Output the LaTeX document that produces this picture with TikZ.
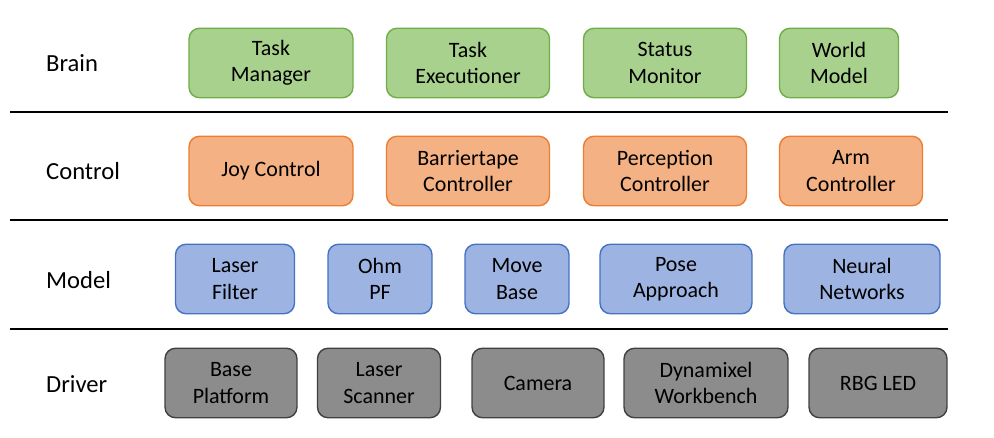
\documentclass[tikz,border=0pt]{standalone}
\usepackage{fontspec}
\setmainfont{Carlito}
\definecolor{brainfill}{HTML}{A9D18E}\definecolor{braindraw}{HTML}{70AD47}
\definecolor{ctrlfill}{HTML}{F4B183}\definecolor{ctrldraw}{HTML}{ED7D31}
\definecolor{modelfill}{HTML}{9DB3E2}\definecolor{modeldraw}{HTML}{4472C4}
\definecolor{drvfill}{HTML}{8C8C8C}\definecolor{drvdraw}{HTML}{404040}
\tikzset{
  box/.style={rounded corners=6pt, align=center, inner sep=0pt, minimum height=1.39cm,
    font=\fontsize{12.5}{15}\selectfont, thick},
  brain/.style={box, fill=brainfill, draw=braindraw},
  ctrl/.style={box, fill=ctrlfill, draw=ctrldraw},
  model/.style={box, fill=modelfill, draw=modeldraw},
  drv/.style={box, fill=drvfill, draw=drvdraw},
  layer/.style={anchor=west, font=\fontsize{14}{16}\selectfont},
  sep/.style={thick}
}
\begin{document}
\begin{tikzpicture}[x=0.02cm, y=-0.02cm]
\useasboundingbox (0,0) rectangle (994,438);
% layer names
\node[layer] (lbrain) at (40,63) {Brain};
\node[layer] (lctrl) at (40,171) {Control};
\node[layer] (lmodel) at (40,280) {Model};
\node[layer] (ldrv) at (40,384) {Driver};
% separators
\foreach \y in {112,220,329}
{   \draw[sep] (10,\y) -- (948,\y);
}
% brain
\node[brain, minimum width=3.28cm] (taskman) at (271,63) {Task\\Manager};
\node[brain, minimum width=3.26cm] (taskexec) at (468,63) {Task\\Executioner};
\node[brain, minimum width=3.26cm] (status) at (665,63) {Status\\Monitor};
\node[brain, minimum width=2.38cm] (world) at (839,63) {World\\Model};
% control
\node[ctrl, minimum width=3.28cm] (joy) at (271,171) {Joy Control};
\node[ctrl, minimum width=3.26cm] (barrier) at (468,171) {Barriertape\\Controller};
\node[ctrl, minimum width=3.26cm] (percep) at (665,171) {Perception\\Controller};
\node[ctrl, minimum width=2.86cm] (arm) at (851,171) {Arm\\Controller};
% model
\node[model, minimum width=2.38cm] (laserf) at (235,279) {Laser\\Filter};
\node[model, minimum width=2.08cm] (ohm) at (380,279) {Ohm\\PF};
\node[model, minimum width=2.08cm] (move) at (517,279) {Move\\Base};
\node[model, minimum width=3.04cm] (pose) at (676,279) {Pose\\Approach};
\node[model, minimum width=3.12cm] (neural) at (862,279) {Neural\\Networks};
% driver
\node[drv, minimum width=2.64cm] (base) at (231,383) {Base\\Platform};
\node[drv, minimum width=2.46cm] (scanner) at (379,383) {Laser\\Scanner};
\node[drv, minimum width=2.64cm] (camera) at (538,383) {Camera};
\node[drv, minimum width=3.28cm] (dyna) at (706,383) {Dynamixel\\Workbench};
\node[drv, minimum width=2.76cm] (led) at (878,383) {RBG LED};
\end{tikzpicture}
\end{document}
